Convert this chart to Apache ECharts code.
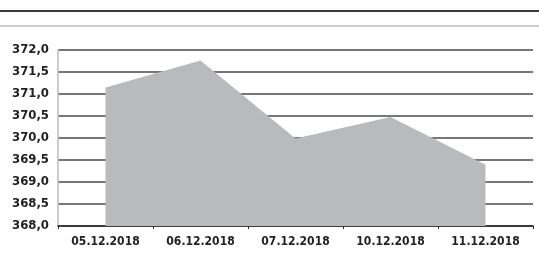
<!DOCTYPE html>
<html>
<head>
<meta charset="utf-8">
<script src="https://cdn.jsdelivr.net/npm/echarts@6/dist/echarts.min.js"></script>
<style>
  html, body { margin: 0; padding: 0; background: #fff; }
  #chart { width: 539px; height: 259px; }
</style>
</head>
<body>
<div id="chart"></div>
<script>
// Daten
var dates = ['05.12.2018', '06.12.2018', '07.12.2018', '10.12.2018', '11.12.2018'];
var values = [371.15, 371.76, 369.99, 370.48, 369.39];
var yMin = 368, yMax = 372, yStep = 0.5;

var font = '"Liberation Sans Narrow", "DejaVu Sans Condensed", "Liberation Sans", sans-serif';

var chart = echarts.init(document.getElementById('chart'));
var option = {
  animation: false,
  // zwei Linien oben
  graphic: [
    { type: 'line', shape: { x1: 0, y1: 11, x2: 539, y2: 11 }, style: { stroke: '#3a3a3a', lineWidth: 2 } },
    { type: 'line', shape: { x1: 0, y1: 26, x2: 539, y2: 26 }, style: { stroke: '#cfcfcf', lineWidth: 2 } }
  ],
  grid: { left: 58, right: 6, top: 50, bottom: 33 },
  xAxis: {
    type: 'category',
    data: dates,
    boundaryGap: true,
    axisLine: { lineStyle: { color: '#2a2a2a', width: 1.5 } },
    axisTick: { show: true, length: 3, lineStyle: { color: '#2a2a2a' } },
    axisLabel: { color: '#222', fontFamily: font, fontWeight: 'bold', fontSize: 12, margin: 10 }
  },
  yAxis: {
    type: 'value',
    min: yMin,
    max: yMax,
    interval: yStep,
    axisLine: { show: true, lineStyle: { color: '#bdbdbd', width: 1.5 } },
    axisTick: { show: false },
    splitLine: { lineStyle: { color: '#4a4a4a', width: 1.5 } },
    axisLabel: {
      color: '#222', fontFamily: font, fontWeight: 'bold', fontSize: 13, margin: 9,
      formatter: function (v) { return v.toFixed(1).replace('.', ','); }
    }
  },
  series: [
    {
      type: 'line',
      data: values,
      symbol: 'none',
      lineStyle: { width: 0 },
      areaStyle: { color: '#b9babc', opacity: 1, origin: 'start' }
    }
  ]
};
chart.setOption(option);
</script>
</body>
</html>
